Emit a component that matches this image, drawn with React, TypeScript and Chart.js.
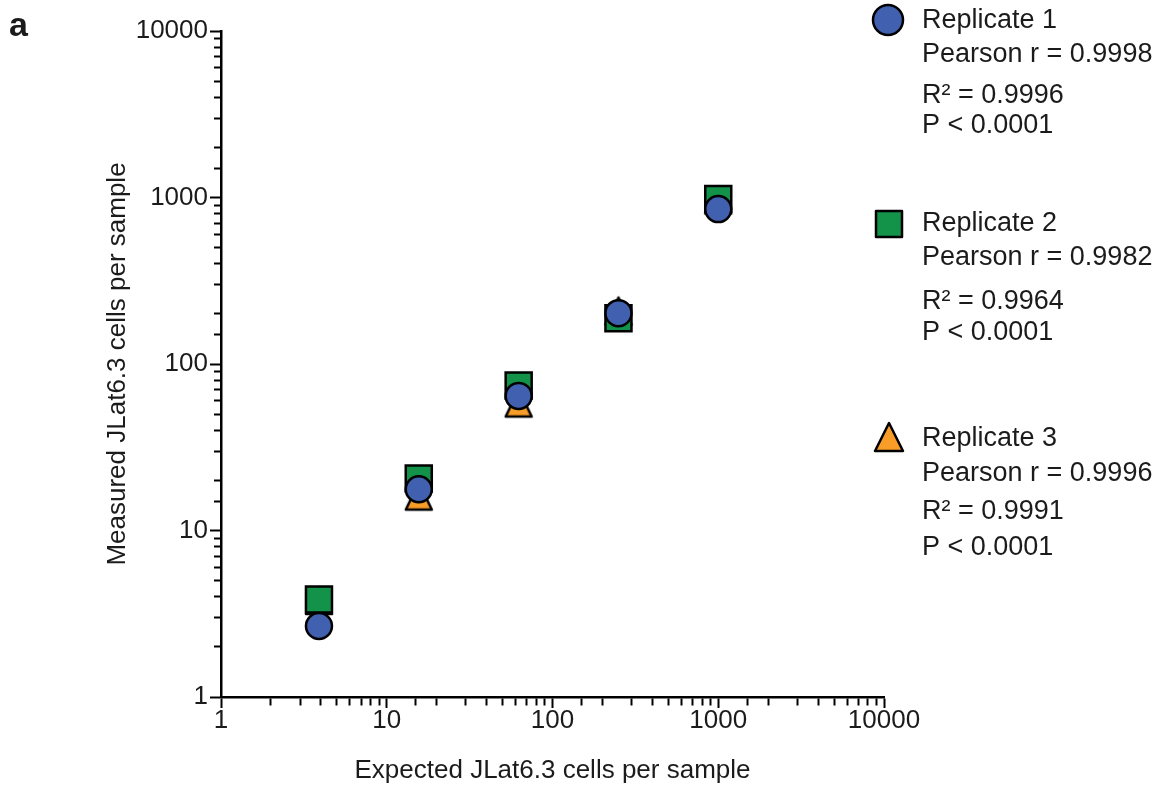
import React, { useEffect, useRef } from "react";
import { Chart, registerables } from "chart.js";

Chart.register(...registerables);

// ---------- data ----------
const expectedCells = [3.9, 15.6, 62.5, 250, 1000];
const replicate1 = [2.67, 17.7, 64.3, 202, 852];
const replicate2 = [3.85, 20.5, 74.3, 188, 980];
const replicate3 = [3.8, 16.1, 58.3, 208, 966];
const seriesNames = ["Replicate 1", "Replicate 2", "Replicate 3"];
const pearsonR = ["0.9998", "0.9982", "0.9996"];
const rSquared = ["0.9996", "0.9964", "0.9991"];
const pValues = ["P < 0.0001", "P < 0.0001", "P < 0.0001"];
const decadeTicks = [1, 10, 100, 1000, 10000];

const BLUE = "#4160b0";
const GREEN = "#13924a";
const ORANGE = "#f89d28";
const INK = "#1b1b1b";
const FONT = "'Liberation Sans', Arial, sans-serif";

function makeTriangle(w: number, h: number, fill: string): HTMLCanvasElement {
  const pad = 3;
  const c = document.createElement("canvas");
  c.width = w + pad * 2;
  c.height = h + pad * 2;
  const ctx = c.getContext("2d")!;
  ctx.beginPath();
  ctx.moveTo(pad + w / 2, pad);
  ctx.lineTo(pad + w, pad + h);
  ctx.lineTo(pad, pad + h);
  ctx.closePath();
  ctx.fillStyle = fill;
  ctx.fill();
  ctx.lineWidth = 2.5;
  ctx.lineJoin = "round";
  ctx.strokeStyle = "#000";
  ctx.stroke();
  return c;
}

function drawMarker(ctx: CanvasRenderingContext2D, kind: string, x: number, y: number, fill: string) {
  ctx.save();
  ctx.beginPath();
  if (kind === "circle") {
    ctx.arc(x, y, 15, 0, Math.PI * 2);
  } else if (kind === "square") {
    ctx.rect(x - 13, y - 13, 26, 26);
  } else {
    ctx.moveTo(x, y - 14);
    ctx.lineTo(x + 14, y + 14);
    ctx.lineTo(x - 14, y + 14);
    ctx.closePath();
  }
  ctx.fillStyle = fill;
  ctx.fill();
  ctx.lineWidth = 2.5;
  ctx.lineJoin = "round";
  ctx.strokeStyle = "#000";
  ctx.stroke();
  ctx.restore();
}

const legendLayout = [
  { kind: "circle", color: BLUE, mx: 888, my: 20, lines: [28, 62, 103, 133] },
  { kind: "square", color: GREEN, mx: 889, my: 224, lines: [231, 265, 309, 340] },
  { kind: "triangle", color: ORANGE, mx: 889, my: 437, lines: [446, 481, 519, 555] },
];

const annotationPlugin = {
  id: "annotations",
  afterDraw(chart: any) {
    const ctx: CanvasRenderingContext2D = chart.ctx;
    ctx.save();
    ctx.fillStyle = INK;
    ctx.textBaseline = "alphabetic";
    ctx.textAlign = "left";
    ctx.font = `bold 34px ${FONT}`;
    ctx.fillText("a", 9, 36);
    legendLayout.forEach((l, i) => {
      drawMarker(ctx, l.kind, l.mx, l.my, l.color);
      ctx.fillStyle = INK;
      ctx.font = `27px ${FONT}`;
      const texts = [
        seriesNames[i],
        `Pearson r = ${pearsonR[i]}`,
        `R\u00b2 = ${rSquared[i]}`,
        pValues[i],
      ];
      texts.forEach((t, k) => ctx.fillText(t, 922, l.lines[k]));
    });
    ctx.restore();
  },
};

const isDecade = (v: number) => Math.abs(Math.log10(v) - Math.round(Math.log10(v))) < 1e-9;

export default function App() {
  const ref = useRef<HTMLCanvasElement | null>(null);

  useEffect(() => {
    document.body.style.margin = "0";
    const canvas = ref.current!;
    const tri = makeTriangle(26, 27, ORANGE);
    const toPts = (ys: number[]) => expectedCells.map((x, i) => ({ x, y: ys[i] }));

    const tickCb = (v: any) => {
      const n = Number(v);
      return decadeTicks.includes(n) ? String(n) : "";
    };

    const axisCommon = (title: string, minorDash: number[], pad: number) => ({
      type: "logarithmic" as const,
      min: 1,
      max: 10000,
      ticks: {
        autoSkip: false,
        maxRotation: 0,
        padding: pad,
        color: INK,
        font: { family: FONT, size: 26 },
        callback: tickCb,
      },
      grid: {
        display: true,
        drawOnChartArea: false,
        drawTicks: true,
        tickLength: 11,
        tickWidth: 2,
        tickColor: "#000",
        tickBorderDash: (c: any) =>
          c.tick && isDecade(Number(c.tick.value)) ? [] : minorDash,
      },
      border: { display: true, color: "#000", width: 2.5 },
      title: {
        display: true,
        text: title,
        color: INK,
        font: { family: FONT, size: 26 },
        padding: { top: 7, bottom: 0 },
      },
    });

    const chart = new Chart(canvas, {
      type: "scatter",
      data: {
        datasets: [
          {
            label: seriesNames[0],
            data: toPts(replicate1),
            pointStyle: "circle",
            pointRadius: 13,
            pointBackgroundColor: BLUE,
            pointBorderColor: "#000",
            pointBorderWidth: 2.5,
          },
          {
            label: seriesNames[1],
            data: toPts(replicate2),
            pointStyle: "rect",
            pointRadius: 18.4,
            pointBackgroundColor: GREEN,
            pointBorderColor: "#000",
            pointBorderWidth: 2.5,
          },
          {
            label: seriesNames[2],
            data: toPts(replicate3),
            pointStyle: tri as any,
            pointRadius: 14,
            pointBackgroundColor: ORANGE,
            pointBorderColor: "#000",
            pointBorderWidth: 2.5,
          },
        ],
      },
      options: {
        responsive: false,
        animation: false,
        events: [],
        layout: { padding: { left: 95, right: 282, top: 31, bottom: 0 } },
        plugins: { legend: { display: false }, tooltip: { enabled: false } },
        scales: {
          x: {
            ...axisCommon("Expected JLat6.3 cells per sample", [7, 100], -3),
            position: "bottom",
            afterFit: (s: any) => {
              s.height = 89;
            },
          },
          y: {
            ...axisCommon("Measured JLat6.3 cells per sample", [0, 4, 7, 100], 2),
            position: "left",
            afterFit: (s: any) => {
              s.width = 126;
            },
          },
        } as any,
      },
      plugins: [annotationPlugin],
    });
    return () => chart.destroy();
  }, []);

  return (
    <div style={{ position: "absolute", left: 0, top: 0, width: 1166, height: 786, background: "#fff" }}>
      <canvas ref={ref} width={1166} height={786} />
    </div>
  );
}
